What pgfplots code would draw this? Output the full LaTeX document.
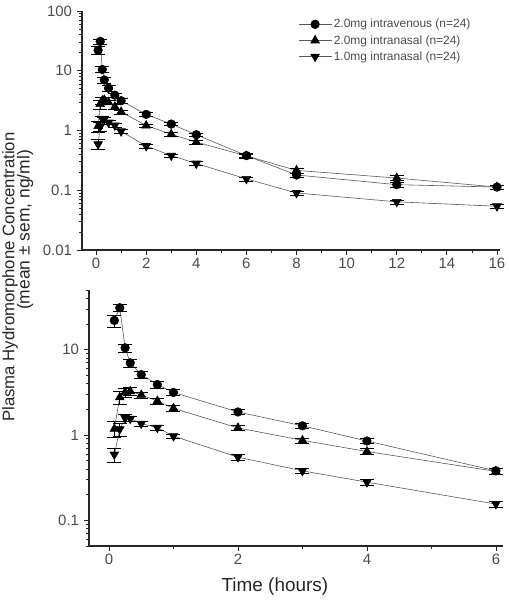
\documentclass[border=0pt]{standalone}
\usepackage{fontspec}
\setmainfont{Liberation Sans}
\usepackage{pgfplots}
\usepackage{pgfplotstable}
\pgfplotsset{compat=1.18}
\definecolor{lc}{gray}{0.35}
\definecolor{tc}{gray}{0.3}

\pgfplotstableread{
t c e
0.083 22 3.5
0.167 31 3
0.25 10.5 1.2
0.33 7.0 0.8
0.5 5.1 0.5
0.75 3.9 0.35
1 3.15 0.25
2 1.86 0.12
3 1.28 0.08
4 0.85 0.06
6 0.38 0.03
8 0.18 0.015
12 0.124 0.01
16 0.113 0.008
}\ivdata

\pgfplotstableread{
t c e
0.083 1.18 0.25
0.167 2.76 0.5
0.25 3.17 0.4
0.33 3.25 0.35
0.5 2.95 0.25
0.75 2.5 0.2
1 2.05 0.15
2 1.21 0.08
3 0.865 0.06
4 0.64 0.05
6 0.375 0.03
8 0.215 0.02
12 0.16 0.015
16 0.113 0.01
}\intwo

\pgfplotstableread{
t c e
0.083 0.59 0.11
0.167 1.17 0.2
0.25 1.58 0.15
0.33 1.55 0.12
0.5 1.36 0.1
0.75 1.22 0.08
1 0.97 0.06
2 0.55 0.04
3 0.38 0.025
4 0.28 0.02
6 0.155 0.012
8 0.09 0.007
12 0.064 0.005
16 0.054 0.004
}\inone

\pgfplotsset{
  legend image code/.code={\draw[mark repeat=2,mark phase=2,#1] plot coordinates {(0cm,0cm) (0.58cm,0cm) (1.16cm,0cm)};},
}

\begin{document}
\begin{tikzpicture}
\useasboundingbox (0,0) rectangle (509bp,600bp);
\begin{axis}[scale only axis, ymode=log,
  axis x line*=bottom, axis y line*=left,
  axis line style={line width=1.2pt, black!85},
  tick align=outside, major tick length=5bp, minor tick length=3bp,
  tick style={line width=0.8pt, black!85},
  tick label style={font=\fontsize{15}{17}\selectfont, text=tc},
  yticklabel style={xshift=-1.5bp},
  /pgf/number format/assume math mode=true,
  log ticks with fixed point,
  clip=false,
  minor ytick={0.02,0.03,0.04,0.05,0.06,0.07,0.08,0.09,0.2,0.3,0.4,0.5,0.6,0.7,0.8,0.9,2,3,4,5,6,7,8,9,20,30,40,50,60,70,80,90},
  at={(82bp,350bp)}, anchor=south west,
  width=418bp, height=239bp,
  xmin=-0.56, xmax=16.12, ymin=0.01, ymax=100,
  xtick={0,2,...,16}, minor xtick={1,3,...,15},
  ytick={0.01,0.1,1,10,100},
  legend style={draw=none, fill=none, at={(0.51,0.983)}, anchor=north west,
    font=\fontsize{12}{14}\selectfont, text=tc, row sep=2bp},
  legend cell align=left,
]
\addplot[lc, line width=0.6pt, mark=*, mark size=4.3bp, mark options={black, solid},
  error bars/.cd, y dir=both, y explicit, error bar style={black, line width=0.6pt},
  error mark options={rotate=90, black, mark size=7bp, line width=0.6pt}] table[x=t,y=c,y error=e] {\ivdata};
\addlegendentry{2.0mg intravenous (n=24)}
\addplot[lc, line width=0.6pt, mark=triangle*, mark size=5bp, mark options={black, solid},
  error bars/.cd, y dir=both, y explicit, error bar style={black, line width=0.6pt},
  error mark options={rotate=90, black, mark size=7bp, line width=0.6pt}] table[x=t,y=c,y error=e] {\intwo};
\addlegendentry{2.0mg intranasal (n=24)}
\addplot[lc, line width=0.6pt, mark=triangle*, mark size=5bp, mark options={black, solid, rotate=180},
  error bars/.cd, y dir=both, y explicit, error bar style={black, line width=0.6pt},
  error mark options={rotate=90, black, mark size=7bp, line width=0.6pt}] table[x=t,y=c,y error=e] {\inone};
\addlegendentry{1.0mg intranasal (n=24)}
\end{axis}

\begin{axis}[scale only axis, ymode=log,
  axis x line*=bottom, axis y line*=left,
  axis line style={line width=1.2pt, black!85},
  tick align=outside, major tick length=5bp, minor tick length=3bp,
  tick style={line width=0.8pt, black!85},
  tick label style={font=\fontsize{15}{17}\selectfont, text=tc},
  yticklabel style={xshift=-1.5bp},
  /pgf/number format/assume math mode=true,
  log ticks with fixed point,
  clip=false,
  minor ytick={0.02,0.03,0.04,0.05,0.06,0.07,0.08,0.09,0.2,0.3,0.4,0.5,0.6,0.7,0.8,0.9,2,3,4,5,6,7,8,9,20,30,40,50,60,70,80,90},
  at={(89bp,54bp)}, anchor=south west,
  width=414bp, height=256bp,
  xmin=-0.31, xmax=6.11, ymin=0.05, ymax=50,
  xtick={0,2,4,6}, minor xtick={1,3,5},
  ytick={0.1,1,10},
  xlabel={Time (hours)},
  xlabel style={font=\fontsize{19}{22}\selectfont, at={(axis description cs:0.449,0)}, anchor=center, yshift=-41bp, text=black!85},
  restrict x to domain=-1:6.5,
]
\addplot[lc, line width=0.6pt, mark=*, mark size=4.3bp, mark options={black, solid},
  error bars/.cd, y dir=both, y explicit, error bar style={black, line width=0.6pt},
  error mark options={rotate=90, black, mark size=7bp, line width=0.6pt}] table[x=t,y=c,y error=e] {\ivdata};
\addplot[lc, line width=0.6pt, mark=triangle*, mark size=5bp, mark options={black, solid},
  error bars/.cd, y dir=both, y explicit, error bar style={black, line width=0.6pt},
  error mark options={rotate=90, black, mark size=7bp, line width=0.6pt}] table[x=t,y=c,y error=e] {\intwo};
\addplot[lc, line width=0.6pt, mark=triangle*, mark size=5bp, mark options={black, solid, rotate=180},
  error bars/.cd, y dir=both, y explicit, error bar style={black, line width=0.6pt},
  error mark options={rotate=90, black, mark size=7bp, line width=0.6pt}] table[x=t,y=c,y error=e] {\inone};
\end{axis}

\node[rotate=90, font=\fontsize{16.8}{19}\selectfont, text=black!85] at (10bp,323bp) {Plasma Hydromorphone Concentration};
\node[rotate=90, font=\fontsize{17.5}{20}\selectfont, text=black!85] at (25bp,370bp) {(mean ± sem, ng/ml)};
\end{tikzpicture}
\end{document}
